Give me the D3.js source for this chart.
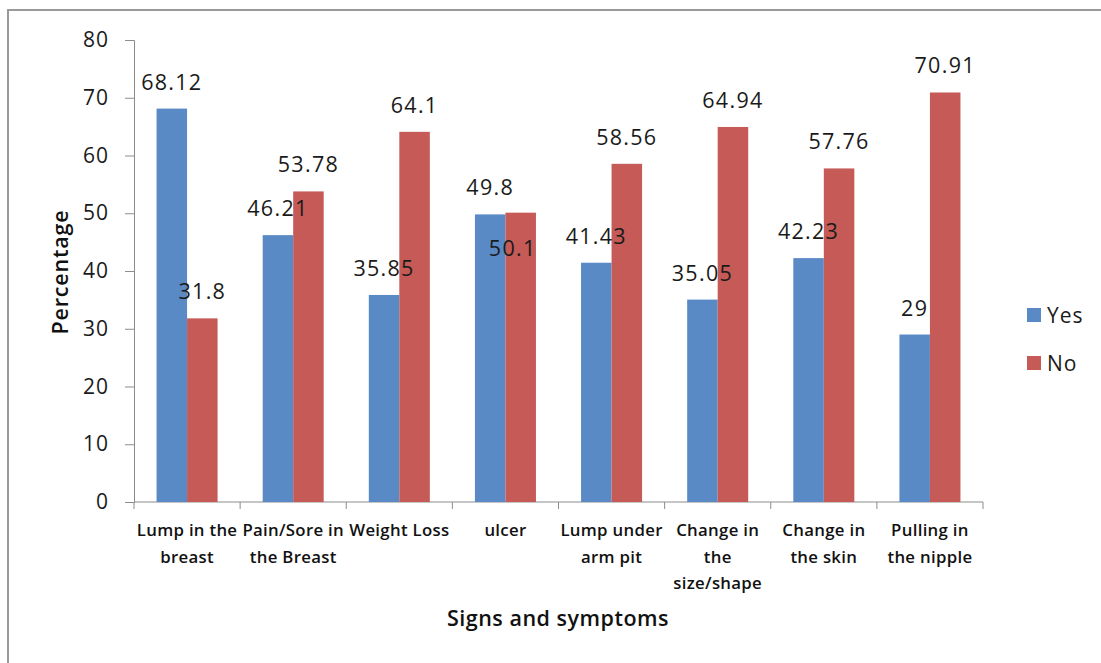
<!DOCTYPE html>
<html><head><meta charset="utf-8">
<script src="https://cdn.jsdelivr.net/npm/d3@7"></script>
<style>
html,body{margin:0;padding:0;background:#fff;}
svg{display:block;}
</style></head>
<body>
<script>
const categories = ["Lump in the breast","Pain/Sore in the Breast","Weight Loss","ulcer","Lump under arm pit","Change in the size/shape","Change in the skin","Pulling in the nipple"];
const categoryLines = [["Lump in the","breast"],["Pain/Sore in","the Breast"],["Weight Loss"],["ulcer"],["Lump under","arm pit"],["Change in","the","size/shape"],["Change in","the skin"],["Pulling in","the nipple"]];
const yesValues = [68.12,46.21,35.85,49.8,41.43,35.05,42.23,29];
const noValues = [31.8,53.78,64.1,50.1,58.56,64.94,57.76,70.91];
const yesLabels = ["68.12","46.21","35.85","49.8","41.43","35.05","42.23","29"];
const noLabels = ["31.8","53.78","64.1","50.1","58.56","64.94","57.76","70.91"];
const seriesNames = ["Yes","No"];
const yTicks = [0,10,20,30,40,50,60,70,80];

const W=1101,H=663;
const colors={Yes:"#5a8ac6",No:"#c55a57"};
const font="'Open Sans', sans-serif";
const svg=d3.select("body").append("svg").attr("width",W).attr("height",H);
svg.append("rect").attr("x",8).attr("y",10).attr("width",W).attr("height",H).attr("fill","#fff").attr("stroke","#999").attr("stroke-width",2);

const x0=134,x1=983,yTop=40,yBot=502;
const x=d3.scaleBand().domain(categories).range([x0,x1]).paddingInner(0).paddingOuter(0);
const y=d3.scaleLinear().domain([0,80]).range([yBot,yTop]);
const groupW=x.bandwidth()*0.575;
const xs=d3.scaleBand().domain(seriesNames).range([0,groupW]);

// axes
const yAxis=svg.append("g").attr("transform",`translate(${x0},0)`).call(d3.axisLeft(y).tickValues(yTicks).tickSize(9).tickPadding(16).tickFormat(d3.format("d")));
yAxis.select(".domain").attr("stroke","#8c8c8c");
yAxis.selectAll(".tick line").attr("stroke","#8c8c8c");
yAxis.selectAll(".tick text").attr("font-family",font).attr("font-size",21).attr("letter-spacing",1).attr("fill","#1a1a1a");

const xAxisG=svg.append("g").attr("transform",`translate(0,${yBot})`);
xAxisG.append("line").attr("x1",x0).attr("x2",x1).attr("stroke","#8c8c8c");
const tickXs=categories.map(c=>x(c)).concat([x1]);
xAxisG.selectAll(".tk").data(tickXs).join("line").attr("x1",d=>d).attr("x2",d=>d).attr("y1",0).attr("y2",7).attr("stroke","#8c8c8c");

// bars
const data=categories.map((c,i)=>({c,vals:[
  {s:"Yes",v:yesValues[i],l:yesLabels[i],other:noValues[i]},
  {s:"No",v:noValues[i],l:noLabels[i],other:yesValues[i]}]}));
const g=svg.append("g");
const grp=g.selectAll(".grp").data(data).join("g").attr("transform",d=>`translate(${x(d.c)+(x.bandwidth()-groupW)/2},0)`);
grp.selectAll("rect").data(d=>d.vals).join("rect")
  .attr("x",d=>xs(d.s)).attr("width",xs.bandwidth())
  .attr("y",d=>y(d.v)).attr("height",d=>yBot-y(d.v))
  .attr("fill",d=>colors[d.s]);
// labels: if a "No" label would collide with its neighbour, drop it inside the bar
const collide=d=>d.s==="No" && Math.abs(d.v-d.other)<2;
grp.selectAll("text").data(d=>d.vals).join("text")
  .attr("x",d=>xs(d.s)+xs.bandwidth()/2-(collide(d)?8:0))
  .attr("y",d=>collide(d)?y(d.v)+43:y(d.v)-19)
  .attr("text-anchor","middle").attr("font-family",font).attr("font-size",21.5).attr("letter-spacing",1.3).attr("fill","#1a1a1a")
  .text(d=>d.l);

// category labels
const cl=svg.append("g");
categories.forEach((c,i)=>{
  const t=cl.append("text").attr("text-anchor","middle").attr("font-family",font).attr("font-weight",600).attr("font-size",16.8).attr("letter-spacing",0.3).attr("fill","#111");
  categoryLines[i].forEach((ln,j)=>{
    t.append("tspan").attr("x",x(c)+x.bandwidth()/2).attr("y",536+j*26.5).text(ln);
  });
});

// axis titles
svg.append("text").attr("x",558).attr("y",626).attr("text-anchor","middle").attr("font-family",font).attr("font-weight",600).attr("font-size",21.5).attr("letter-spacing",0.5).attr("fill","#111").text("Signs and symptoms");
svg.append("text").attr("transform","translate(68,272) rotate(-90)").attr("text-anchor","middle").attr("font-family",font).attr("font-weight",600).attr("font-size",21.5).attr("letter-spacing",0.8).attr("fill","#111").text("Percentage");

// legend
const lg=svg.append("g");
seriesNames.forEach((s,i)=>{
  const yy=308+i*48;
  lg.append("rect").attr("x",1027).attr("y",yy).attr("width",14).attr("height",14).attr("fill",colors[s]);
  lg.append("text").attr("x",1047).attr("y",yy+15).attr("font-family",font).attr("font-size",21).attr("letter-spacing",1).attr("fill","#1a1a1a").text(s);
});
</script>
</body></html>
